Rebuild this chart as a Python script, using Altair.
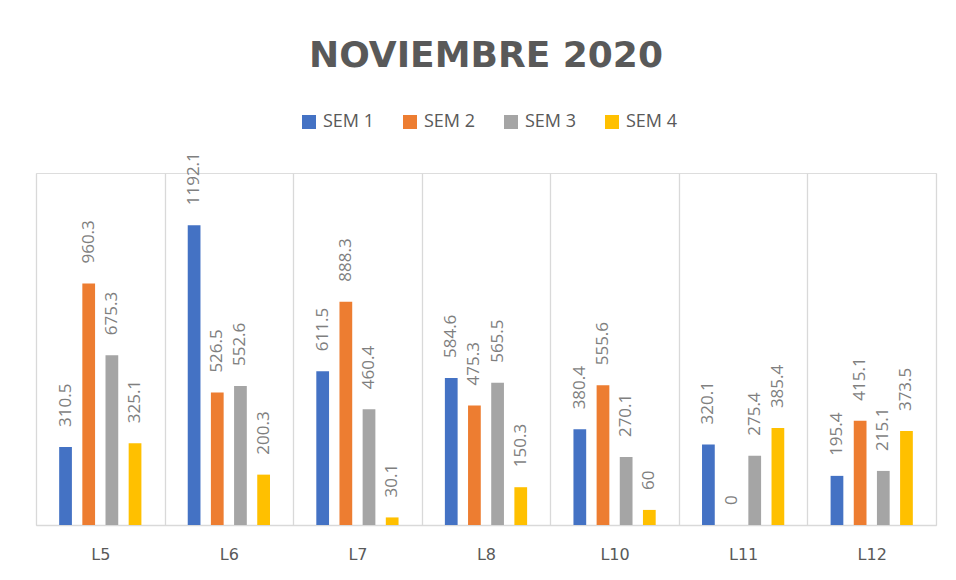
import altair as alt
import pandas as pd

cats = ["L5", "L6", "L7", "L8", "L10", "L11", "L12"]
series = ["SEM 1", "SEM 2", "SEM 3", "SEM 4"]
sem1 = [310.5, 1192.1, 611.5, 584.6, 380.4, 320.1, 195.4]
sem2 = [960.3, 526.5, 888.3, 475.3, 555.6, 0, 415.1]
sem3 = [675.3, 552.6, 460.4, 565.5, 270.1, 275.4, 215.1]
sem4 = [325.1, 200.3, 30.1, 150.3, 60, 385.4, 373.5]
colors = ["#4472C4", "#ED7D31", "#A5A5A5", "#FFC000"]

rows = []
for s, vals in zip(series, [sem1, sem2, sem3, sem4]):
    for c, v in zip(cats, vals):
        rows.append({"cat": c, "sem": s, "val": v})
df = pd.DataFrame(rows)

base = alt.Chart(df).encode(
    x=alt.X("cat:N", sort=cats, title=None,
            scale=alt.Scale(paddingInner=0, paddingOuter=0),
            axis=alt.Axis(tickBand="extent", grid=True, gridColor="#d9d9d9", gridWidth=1.3,
                          ticks=False, tickSize=0, domainColor="#d9d9d9", domainWidth=1.5,
                          labelFont="DejaVu Sans", labelFontSize=16, labelColor="#595959",
                          labelPadding=21, labelAngle=0)),
    xOffset=alt.XOffset("sem:N", sort=series,
                        scale=alt.Scale(paddingInner=0.45, paddingOuter=1)),
    y=alt.Y("val:Q", scale=alt.Scale(domain=[0, 1400], nice=False), axis=None),
)

bars = base.mark_bar().encode(
    color=alt.Color("sem:N", sort=series,
                    scale=alt.Scale(domain=series, range=colors),
                    legend=alt.Legend(title=None, orient="none", legendX=264, legendY=-60,
                                      direction="horizontal", columns=4,
                                      symbolType="square", symbolSize=196,
                                      symbolStrokeWidth=0, labelFont="Open Sans",
                                      labelFontSize=18, labelColor="#595959",
                                      labelOffset=5, columnPadding=26))
)

labels = base.mark_text(angle=270, align="left", baseline="middle", dx=20,
                        font="Open Sans", fontSize=17, color="#7f7f7f").encode(
    text=alt.Text("val:Q", format="~g")
)

chart = alt.layer(bars, labels).properties(
    width=900, height=352,
    title=alt.TitleParams("NOVIEMBRE 2020", font="DejaVu Sans", fontSize=36,
                          fontWeight="bold", color="#595959", anchor="middle",
                          baseline="alphabetic", offset=10),
    autosize=alt.AutoSizeParams(type="none"),
    padding={"left": 28, "top": 165, "right": 10, "bottom": 40},
).configure_view(stroke=None).configure(background="white")

chart.save("out.html", embed_options={"renderer": "svg", "actions": False})
